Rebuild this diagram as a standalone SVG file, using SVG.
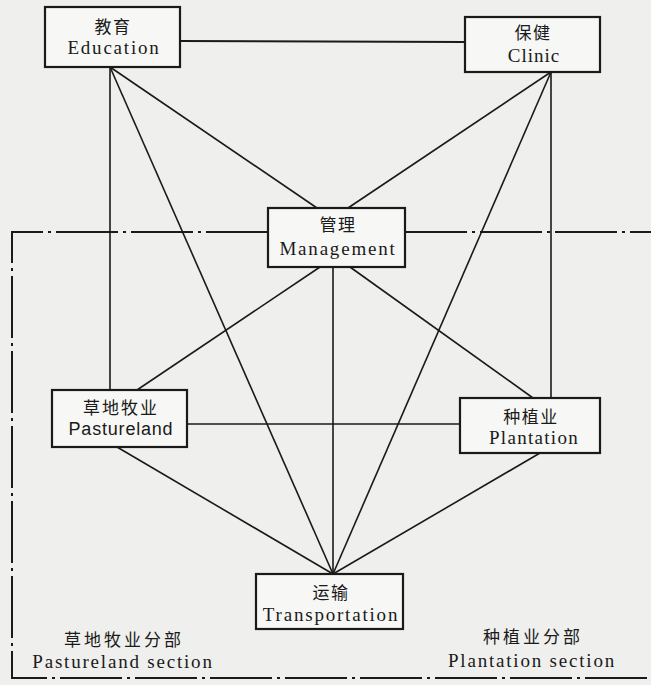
<svg xmlns="http://www.w3.org/2000/svg" width="651" height="685" viewBox="0 0 651 685">
<style>
.box{fill:#f7f7f5;stroke:#1a1a1a;stroke-width:2.2}
.cn{font-family:"Noto Sans CJK SC","Noto Sans CJK TC",sans-serif;font-size:17px;fill:#1a1a1a;text-anchor:middle;letter-spacing:1.5px}
.en{font-family:"Liberation Serif","DejaVu Serif",serif;font-size:19px;fill:#1a1a1a;text-anchor:middle;letter-spacing:1.8px}
.ens{font-family:"Liberation Sans","DejaVu Sans",sans-serif;font-size:18px;fill:#1a1a1a;text-anchor:middle;letter-spacing:0.8px}
.ln{stroke:#1a1a1a;stroke-width:1.6;fill:none}
.bd{stroke:#1a1a1a;stroke-width:2;fill:none;stroke-dasharray:62 5 3 5}
</style>
<rect width="651" height="685" fill="#efefed"/>
<g id="boundary">
<path class="bd" d="M268,232 H12 V678 H651"/>
<path class="bd" d="M405,232 H651"/>
</g>
<g id="connectors">
<line class="ln" x1="180" y1="41" x2="465" y2="42" style="stroke-width:2.2"/>
<line class="ln" x1="110" y1="67" x2="110" y2="390"/>
<line class="ln" x1="110" y1="67" x2="317" y2="208"/>
<line class="ln" x1="110" y1="67" x2="333" y2="574"/>
<line class="ln" x1="551" y1="72" x2="551" y2="398"/>
<line class="ln" x1="551" y1="72" x2="348" y2="208"/>
<line class="ln" x1="551" y1="72" x2="333" y2="574"/>
<line class="ln" x1="320" y1="267" x2="137" y2="390"/>
<line class="ln" x1="350" y1="267" x2="533" y2="398"/>
<line class="ln" x1="333" y1="267" x2="333" y2="574"/>
<line class="ln" x1="117" y1="447" x2="333" y2="574"/>
<line class="ln" x1="540" y1="453" x2="333" y2="574"/>
<line class="ln" x1="187" y1="424" x2="460" y2="424"/>
</g>
<g id="education">
<rect class="box" x="45" y="7" width="135" height="60"/>
<text class="cn" x="113" y="33">教育</text>
<text class="en" x="114" y="54">Education</text>
</g>
<g id="clinic">
<rect class="box" x="465" y="17" width="135" height="55"/>
<text class="cn" x="533" y="39">保健</text>
<text class="en" x="534" y="62" style="letter-spacing:1px">Clinic</text>
</g>
<g id="management">
<rect class="box" x="268" y="208" width="137" height="59"/>
<text class="cn" x="338" y="231">管理</text>
<text class="en" x="338" y="255">Management</text>
</g>
<g id="pastureland">
<rect class="box" x="52" y="390" width="135" height="57"/>
<text class="cn" x="121" y="414" style="letter-spacing:2px">草地牧业</text>
<text class="ens" x="121" y="435">Pastureland</text>
</g>
<g id="plantation">
<rect class="box" x="460" y="398" width="140" height="55"/>
<text class="cn" x="531" y="423">种植业</text>
<text class="en" x="534" y="444" style="letter-spacing:1.3px">Plantation</text>
</g>
<g id="transportation">
<rect class="box" x="256" y="574" width="147" height="55"/>
<text class="cn" x="331" y="599">运输</text>
<text class="en" x="331" y="621">Transportation</text>
</g>
<g id="pastureland-section">
<text class="cn" x="124" y="646" style="letter-spacing:3px">草地牧业分部</text>
<text class="en" x="123" y="668">Pastureland section</text>
</g>
<g id="plantation-section">
<text class="cn" x="533" y="643" style="letter-spacing:3px">种植业分部</text>
<text class="en" x="532" y="667">Plantation section</text>
</g>
</svg>
